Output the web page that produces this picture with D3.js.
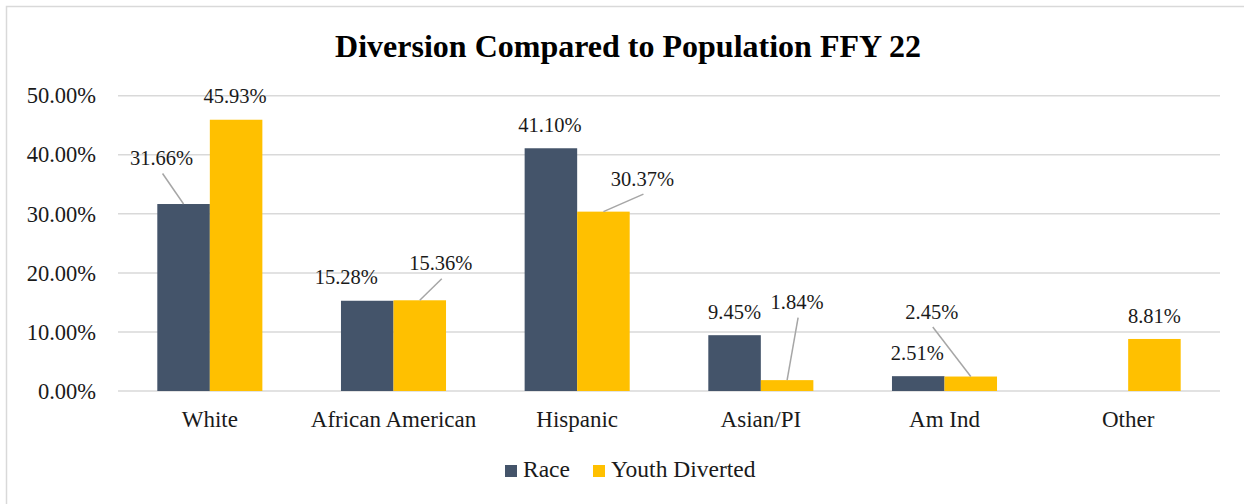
<!DOCTYPE html>
<html>
<head>
<meta charset="utf-8">
<script src="https://cdn.jsdelivr.net/npm/d3@7.9.0/dist/d3.min.js"></script>
</head>
<body style="margin:0;background:#fff">
<svg id="chart" width="1244" height="504" style="display:block"></svg>
<script>
const categories = ['White', 'African American', 'Hispanic', 'Asian/PI', 'Am Ind', 'Other'];
const raceValues = [31.66, 15.28, 41.10, 9.45, 2.51, null];
const youthValues = [45.93, 15.36, 30.37, 1.84, 2.45, 8.81];
const seriesNames = ['Race', 'Youth Diverted'];
const yTicks = [0, 10, 20, 30, 40, 50];

const colors = { 'Race': '#44546A', 'Youth Diverted': '#FFC000' };

// label offsets relative to the top-centre of each bar (px); leader = draw leader line
const labelLayout = {
    'Race': [
        { dx: -22, dy: -39, leader: true },
        { dx: -21, dy: -17 },
        { dx: -1, dy: -16 },
        { dx: 0, dy: -16 },
        { dx: -1, dy: -16 },
        null,
    ],
    'Youth Diverted': [
        { dx: -1, dy: -17 },
        { dx: 21, dy: -30, leader: true },
        { dx: 39, dy: -26, leader: true },
        { dx: 10, dy: -71, leader: true },
        { dx: -39, dy: -58, leader: true },
        { dx: 0, dy: -16 },
    ],
};

const svg = d3.select('#chart');

const plot = { left: 118, right: 1220, top: 95.7, bottom: 391 };

// chart frame (runs off the right and bottom of the window)
svg.append('rect')
    .attr('x', 6.5).attr('y', 6.5)
    .attr('width', 1300).attr('height', 600)
    .attr('fill', 'none')
    .attr('stroke', '#d9d9d9')
    .attr('stroke-width', 1.5);

svg.append('text')
    .attr('x', 628).attr('y', 57)
    .attr('text-anchor', 'middle')
    .attr('font-family', 'Liberation Serif')
    .attr('font-size', 32)
    .attr('font-weight', 'bold')
    .attr('fill', '#000')
    .text('Diversion Compared to Population FFY 22');

const x0 = d3.scaleBand()
    .domain(categories)
    .range([plot.left, plot.right])
    .paddingInner(0.428)
    .paddingOuter(0.214);

const x1 = d3.scaleBand()
    .domain(seriesNames)
    .range([0, x0.bandwidth()]);

const y = d3.scaleLinear()
    .domain([0, 50])
    .range([plot.bottom, plot.top]);

// gridlines
svg.append('g')
    .selectAll('line')
    .data(yTicks)
    .join('line')
    .attr('x1', plot.left).attr('x2', plot.right)
    .attr('y1', d => y(d)).attr('y2', d => y(d))
    .attr('stroke', '#d9d9d9')
    .attr('stroke-width', 1.5);

// y axis labels
const yAxis = svg.append('g')
    .attr('transform', `translate(${plot.left - 22},0)`)
    .call(d3.axisLeft(y).tickValues(yTicks).tickSize(0).tickPadding(0).tickFormat(d => d.toFixed(2) + '%'));
yAxis.attr('font-family', 'Liberation Serif');
yAxis.select('.domain').remove();
yAxis.selectAll('text')
    .attr('font-family', 'Liberation Serif')
    .attr('font-size', 22.5)
    .attr('fill', '#1a1a1a')
    .attr('dy', '0.32em');

// x axis labels
const xAxis = svg.append('g')
    .attr('transform', `translate(0,${plot.bottom})`)
    .call(d3.axisBottom(x0).tickSize(0).tickPadding(0));
xAxis.attr('font-family', 'Liberation Serif');
xAxis.select('.domain').remove();
xAxis.selectAll('text')
    .attr('font-family', 'Liberation Serif')
    .attr('font-size', 23)
    .attr('fill', '#1a1a1a')
    .attr('dy', 36);

const rows = [];
categories.forEach((c, i) => {
    rows.push({ cat: c, i, series: 'Race', value: raceValues[i] });
    rows.push({ cat: c, i, series: 'Youth Diverted', value: youthValues[i] });
});
const present = rows.filter(d => d.value !== null);

const barX = d => x0(d.cat) + x1(d.series);
const barCx = d => barX(d) + x1.bandwidth() / 2;

svg.append('g')
    .selectAll('rect')
    .data(present)
    .join('rect')
    .attr('x', barX)
    .attr('y', d => y(d.value))
    .attr('width', x1.bandwidth())
    .attr('height', d => y(0) - y(d.value))
    .attr('fill', d => colors[d.series]);

// data labels + leader lines
const labelled = present.map(d => {
    const lay = labelLayout[d.series][d.i];
    return { ...d, lx: barCx(d) + lay.dx, ly: y(d.value) + lay.dy, leader: !!lay.leader };
});

svg.append('g')
    .selectAll('line')
    .data(labelled.filter(d => d.leader))
    .join('line')
    .attr('x1', d => d.lx + 1).attr('y1', d => d.ly + 8.5)
    .attr('x2', d => barCx(d)).attr('y2', d => y(d.value))
    .attr('stroke', '#a6a6a6')
    .attr('stroke-width', 1.5);

svg.append('g')
    .selectAll('text')
    .data(labelled)
    .join('text')
    .attr('x', d => d.lx)
    .attr('y', d => d.ly)
    .attr('text-anchor', 'middle')
    .attr('font-family', 'Liberation Serif')
    .attr('font-size', 20.5)
    .attr('fill', '#1a1a1a')
    .text(d => d.value.toFixed(2) + '%');

// legend
const legend = svg.append('g').attr('transform', 'translate(505,465)');
const legendX = [0, 88];
const items = legend.selectAll('g')
    .data(seriesNames)
    .join('g')
    .attr('transform', (d, i) => `translate(${legendX[i]},0)`);
items.append('rect')
    .attr('width', 12).attr('height', 12)
    .attr('fill', d => colors[d]);
items.append('text')
    .attr('x', 18).attr('y', 12)
    .attr('font-family', 'Liberation Serif')
    .attr('font-size', 23.5)
    .attr('fill', '#1a1a1a')
    .text(d => d);
</script>
</body>
</html>
